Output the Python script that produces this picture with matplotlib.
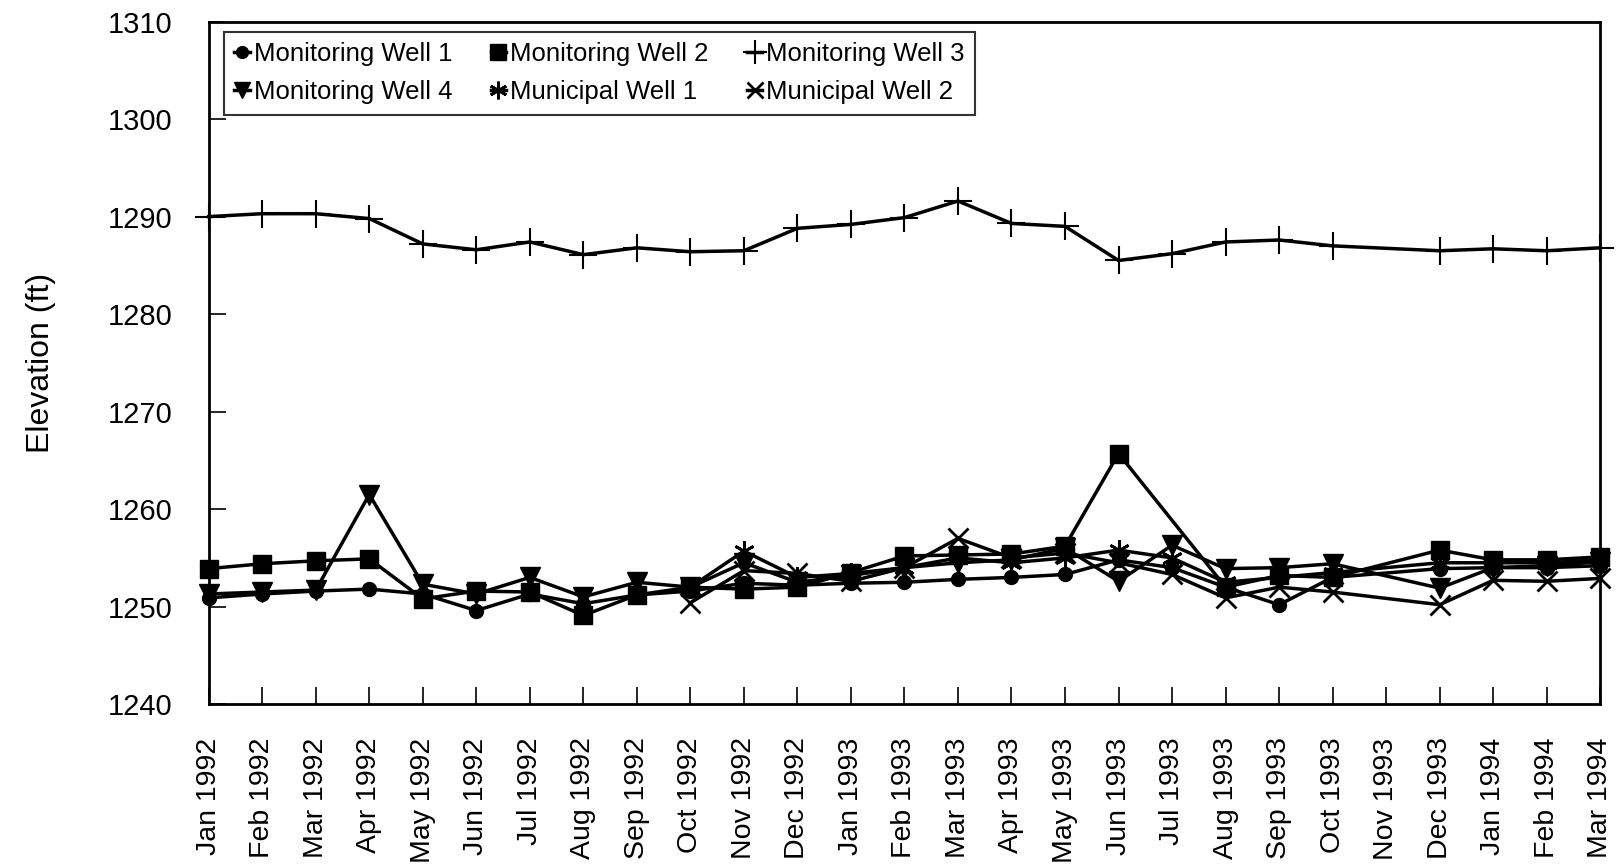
import matplotlib
matplotlib.use("Agg")
import matplotlib.pyplot as plt
import numpy as np

plt.rcParams['font.family'] = ['Liberation Sans', 'DejaVu Sans']

months = ['Jan 1992', 'Feb 1992', 'Mar 1992', 'Apr 1992', 'May 1992', 'Jun 1992',
          'Jul 1992', 'Aug 1992', 'Sep 1992', 'Oct 1992', 'Nov 1992', 'Dec 1992',
          'Jan 1993', 'Feb 1993', 'Mar 1993', 'Apr 1993', 'May 1993', 'Jun 1993',
          'Jul 1993', 'Aug 1993', 'Sep 1993', 'Oct 1993', 'Nov 1993', 'Dec 1993',
          'Jan 1994', 'Feb 1994', 'Mar 1994']

nan = np.nan

# elevations (ft); nan = no reading that month
mw1 = [1250.9, 1251.3, 1251.6, 1251.8, 1251.3, 1249.6, 1251.3, 1250.3, 1251.2,
       1251.6, 1252.4, 1252.2, 1252.4, 1252.5, 1252.8, 1253.0, 1253.3, 1254.8,
       1254.0, 1252.0, 1250.2, 1253.0, nan, 1253.9, 1254.0, 1254.0, 1254.2]
mw2 = [1253.9, 1254.4, 1254.7, 1254.9, 1250.8, 1251.6, 1251.5, 1249.1, 1251.2,
       1252.0, 1251.8, 1252.0, 1253.5, 1255.2, 1255.3, 1255.4, 1256.2, 1265.7,
       nan, 1252.0, 1253.2, 1253.0, nan, 1255.8, 1254.8, 1254.8, 1255.1]
mw3 = [1290.0, 1290.3, 1290.3, 1289.8, 1287.2, 1286.6, 1287.4, 1286.1, 1286.8,
       1286.4, 1286.5, 1288.8, 1289.2, 1289.9, 1291.6, 1289.3, 1289.0, 1285.5,
       1286.2, 1287.4, 1287.6, 1287.0, nan, 1286.5, 1286.7, 1286.5, 1286.8]
mw4 = [1251.3, 1251.5, 1251.7, 1261.5, 1252.3, 1251.3, 1253.0, 1251.0, 1252.5,
       1252.0, 1254.5, 1252.5, 1253.2, 1254.0, 1254.5, 1254.8, 1256.0, 1252.6,
       1256.3, 1253.9, 1254.0, 1254.4, nan, 1251.9, 1254.0, 1254.2, 1254.6]
mun1 = [nan, nan, nan, nan, nan, nan, nan, nan, nan,
        1252.0, 1255.7, 1253.0, 1253.4, 1254.0, 1255.0, 1254.5, 1255.0, 1255.8,
        1255.0, 1252.5, 1253.0, 1253.5, nan, 1254.5, 1254.5, 1254.5, 1254.8]
mun2 = [nan, nan, nan, nan, nan, nan, nan, nan, nan,
        1250.4, 1253.7, 1253.4, 1252.6, 1254.0, 1257.0, 1255.0, 1255.5, 1254.5,
        1253.3, 1250.9, 1252.0, 1251.5, nan, 1250.2, 1252.7, 1252.6, 1252.9]

series = [
    ('Monitoring Well 1', mw1, 'o', 10, 1.0),
    ('Monitoring Well 2', mw2, 's', 13, 1.0),
    ('Monitoring Well 3', mw3, '+', 20, 1.5),
    ('Monitoring Well 4', mw4, 'v', 14, 1.0),
    ('Municipal Well 1', mun1, (6, 2, 0), 15, 2.0),
    ('Municipal Well 2', mun2, 'x', 14, 2.0),
]

fig = plt.figure(figsize=(16.18, 8.64), dpi=100)
ax = fig.add_axes([0.129, 0.185, 0.860, 0.790])

x = np.arange(len(months))
handles = {}
for name, vals, mk, ms, mew in series:
    v = np.array(vals, dtype=float)
    ok = ~np.isnan(v)
    h, = ax.plot(x[ok], v[ok], color='black', lw=2.5, marker=mk, ms=ms,
                 mew=mew, mfc='black', mec='black', label=name, clip_on=False,
                 zorder=3)
    handles[name] = h

ax.set_xlim(0, len(months) - 1)
ax.set_ylim(1240, 1310)
ax.set_yticks(np.arange(1240, 1311, 10))
ax.set_xticks(x)
ax.set_xticklabels(months, rotation=90)
ax.tick_params(axis='both', direction='in', length=12, width=1.2, labelsize=21,
               colors='black')
ax.tick_params(axis='x', labelsize=20.5, pad=24)
ax.tick_params(axis='y', pad=26)
for s in ax.spines.values():
    s.set_linewidth(2)
    s.set_color('black')

ax.set_ylabel('Elevation (ft)', fontsize=23)
ax.yaxis.set_label_coords(-0.11, 0.5)

order = ['Monitoring Well 1', 'Monitoring Well 4', 'Monitoring Well 2',
         'Municipal Well 1', 'Monitoring Well 3', 'Municipal Well 2']
leg = ax.legend([handles[n] for n in order], order, ncol=3, loc='upper left',
                bbox_to_anchor=(0.011, 0.985), fontsize=18.5, frameon=True,
                fancybox=False, shadow=False, handlelength=0.6,
                handletextpad=0.15, columnspacing=1.5, borderpad=0.4,
                labelspacing=0.55, markerscale=0.85, borderaxespad=0.0)
leg.get_frame().set_edgecolor('black')
leg.get_frame().set_linewidth(1.5)

fig.savefig('out.png', dpi=100, facecolor='white')
